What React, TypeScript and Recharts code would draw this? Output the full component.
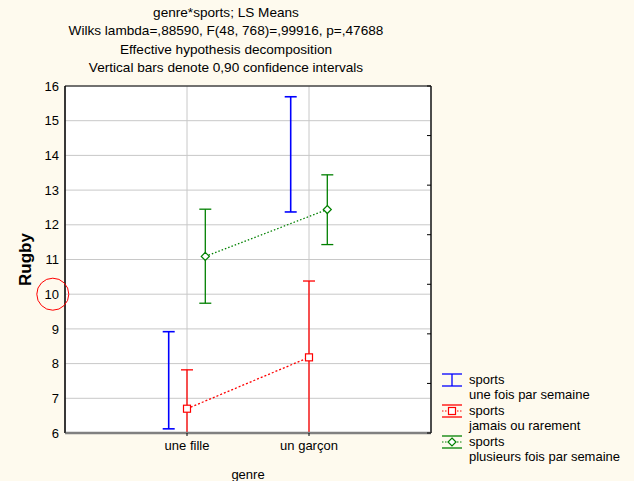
import React from 'react';
import {
  ComposedChart,
  Scatter,
  ErrorBar,
  XAxis,
  YAxis,
  CartesianGrid,
  Legend,
  ReferenceDot,
  ReferenceArea,
  Label,
} from 'recharts';

const categories = ['une fille', 'un garçon'];
const yTicks = [6, 7, 8, 9, 10, 11, 12, 13, 14, 15, 16];
const rightTicks = [0, 1, 2, 3, 4, 5, 6, 7];
const titleLines = [
  'genre*sports; LS Means',
  'Wilks lambda=,88590, F(48, 768)=,99916, p=,47688',
  'Effective hypothesis decomposition',
  'Vertical bars denote 0,90 confidence intervals',
];
const seriesNames = ['une fois par semaine', 'jamais ou rarement', 'plusieurs fois par semaine'];

// sports = une fois par semaine (no marker drawn, only the bars)
const onceMean = [7.52, 14.03];
const onceLow = [6.12, 12.37];
const onceHigh = [8.92, 15.69];
// sports = jamais ou rarement
const neverMean = [6.7, 8.18];
const neverLow = [5.58, 5.98];
const neverHigh = [7.82, 10.38];
// sports = plusieurs fois par semaine
const oftenMean = [11.09, 12.44];
const oftenLow = [9.74, 11.43];
const oftenHigh = [12.45, 13.44];

const Y_MIN = 6;
const Y_MAX = 16;
const BLUE = '#0000ff';
const RED = '#ff0000';
const GREEN = '#008000';
const BG = '#fefaee';
const SHIFT = 0.15;
const FONT = 13;

// error bars are not clipped by recharts, so cut them at the axis range
const build = (mean: number[], low: number[], high: number[], shift: number) =>
  mean.map((m, i) => ({
    x: i + 1 + shift,
    y: m,
    err: [m - Math.max(low[i], Y_MIN), Math.min(high[i], Y_MAX) - m],
  }));

const onceData = build(onceMean, onceLow, onceHigh, -SHIFT);
const neverData = build(neverMean, neverLow, neverHigh, 0);
const oftenData = build(oftenMean, oftenLow, oftenHigh, SHIFT);

const NoDot = () => <g />;
const NoTick = () => <g />;

const Square = (props: any) => {
  const { cx, cy } = props;
  return <rect x={cx - 3.5} y={cy - 3.5} width={7} height={7} fill="#fff" stroke={RED} strokeWidth={1.2} />;
};

const Diamond = (props: any) => {
  const { cx, cy } = props;
  return (
    <polygon
      points={`${cx},${cy - 4} ${cx + 4},${cy} ${cx},${cy + 4} ${cx - 4},${cy}`}
      fill="#fff"
      stroke={GREEN}
      strokeWidth={1.2}
    />
  );
};

const LegendIcon = ({ index }: { index: number }) => {
  const color = [BLUE, RED, GREEN][index];
  return (
    <svg width={20} height={14} style={{ display: 'block', flex: 'none', marginRight: 7, marginTop: 1 }}>
      <line x1={0} y1={1} x2={20} y2={1} stroke={color} strokeWidth={1.3} />
      <line x1={0} y1={13} x2={20} y2={13} stroke={color} strokeWidth={1.3} />
      {index === 0 && <line x1={10} y1={1} x2={10} y2={13} stroke={color} strokeWidth={1.3} />}
      {index > 0 && (
        <line x1={0} y1={7} x2={20} y2={7} stroke={color} strokeWidth={1} strokeDasharray="1.5 1.5" />
      )}
      {index === 1 && <rect x={6.5} y={3.5} width={7} height={7} fill="#fff" stroke={color} strokeWidth={1.2} />}
      {index === 2 && <polygon points="10,3 14,7 10,11 6,7" fill="#fff" stroke={color} strokeWidth={1.2} />}
    </svg>
  );
};

const LegendContent = () => (
  <div style={{ fontSize: FONT, lineHeight: '15px', color: '#000' }}>
    {seriesNames.map((name, i) => (
      <div key={name} style={{ display: 'flex', alignItems: 'flex-start', marginBottom: 1 }}>
        <LegendIcon index={i} />
        <div style={{ whiteSpace: 'nowrap' }}>
          <div>sports</div>
          <div>{name}</div>
        </div>
      </div>
    ))}
  </div>
);

const RugbyLabel = (props: any) => {
  const { viewBox } = props;
  const x = viewBox.x + 5;
  const y = viewBox.y + viewBox.height / 2;
  return (
    <text
      x={x}
      y={y}
      transform={`rotate(-90, ${x}, ${y})`}
      textAnchor="middle"
      dominantBaseline="central"
      fontSize={17}
      fontWeight="bold"
      fill="#000"
    >
      Rugby
    </text>
  );
};

export default function App() {
  return (
    <div
      style={{
        position: 'absolute',
        left: 0,
        top: 0,
        width: 634,
        height: 481,
        background: BG,
        fontFamily: '"Liberation Sans", Arial, sans-serif',
      }}
    >
      <div
        style={{
          position: 'absolute',
          left: 0,
          top: 4,
          width: 452,
          textAlign: 'center',
          fontSize: 13.6,
          lineHeight: '18.3px',
          color: '#000',
        }}
      >
        {titleLines.map((t) => (
          <div key={t}>{t}</div>
        ))}
      </div>
      <ComposedChart
        width={634}
        height={481}
        margin={{ top: 86, right: 203, bottom: 0, left: 20 }}
        style={{ position: 'absolute', left: 0, top: 0 }}
      >
        <CartesianGrid fill="#ffffff" stroke="#c8c8c8" strokeWidth={1} />
        <ReferenceArea x1={0} x2={3} y1={Y_MIN} y2={Y_MAX} fill="none" stroke="#000" strokeWidth={1} />
        <XAxis
          type="number"
          dataKey="x"
          domain={[0, 3]}
          ticks={[1, 2]}
          tickFormatter={(v: number) => categories[v - 1]}
          height={48}
          tickSize={3}
          tickMargin={5}
          axisLine={{ stroke: '#808080', strokeWidth: 2.5 }}
          tickLine={{ stroke: '#000' }}
          tick={{ fill: '#000', fontSize: FONT }}
          allowDataOverflow
        >
          <Label value="genre" position="insideBottom" offset={2} fontSize={FONT} fill="#000" />
        </XAxis>
        <YAxis
          type="number"
          domain={[Y_MIN, Y_MAX]}
          ticks={yTicks}
          width={45}
          tickSize={0}
          tickMargin={6}
          axisLine={{ stroke: '#000' }}
          tickLine={false}
          tick={{ fill: '#000', fontSize: FONT }}
          allowDataOverflow
        >
          <Label content={<RugbyLabel />} />
        </YAxis>
        <YAxis
          yAxisId="right"
          orientation="right"
          type="number"
          domain={[0, 7]}
          ticks={rightTicks}
          width={1}
          tick={<NoTick />}
          mirror
          tickSize={4}
          axisLine={{ stroke: '#404040', strokeWidth: 1.5 }}
          tickLine={{ stroke: '#000' }}
          allowDataOverflow
        />
        <Scatter
          name="une fois par semaine"
          data={onceData}
          dataKey="y"
          shape={<NoDot />}
          isAnimationActive={false}
          fill={BLUE}
        >
          <ErrorBar dataKey="err" direction="y" width={6} stroke={BLUE} strokeWidth={1.6} isAnimationActive={false} />
        </Scatter>
        <Scatter
          name="jamais ou rarement"
          data={neverData}
          dataKey="y"
          shape={<Square />}
          line={{ stroke: RED, strokeWidth: 1.3, strokeDasharray: '2 2' }}
          isAnimationActive={false}
          fill={RED}
        >
          <ErrorBar dataKey="err" direction="y" width={6} stroke={RED} strokeWidth={1.3} isAnimationActive={false} />
        </Scatter>
        <Scatter
          name="plusieurs fois par semaine"
          data={oftenData}
          dataKey="y"
          shape={<Diamond />}
          line={{ stroke: GREEN, strokeWidth: 1.3, strokeDasharray: '1.5 2' }}
          isAnimationActive={false}
          fill={GREEN}
        >
          <ErrorBar dataKey="err" direction="y" width={6} stroke={GREEN} strokeWidth={1.3} isAnimationActive={false} />
        </Scatter>
        <ReferenceDot x={-0.1} y={10} r={16} fill="none" stroke={RED} strokeWidth={1} ifOverflow="visible" />
        <Legend
          layout="horizontal"
          verticalAlign="middle"
          align="center"
          content={<LegendContent />}
          wrapperStyle={{ left: 442, top: 372, width: 190, right: 'auto', bottom: 'auto' }}
        />
      </ComposedChart>
    </div>
  );
}
